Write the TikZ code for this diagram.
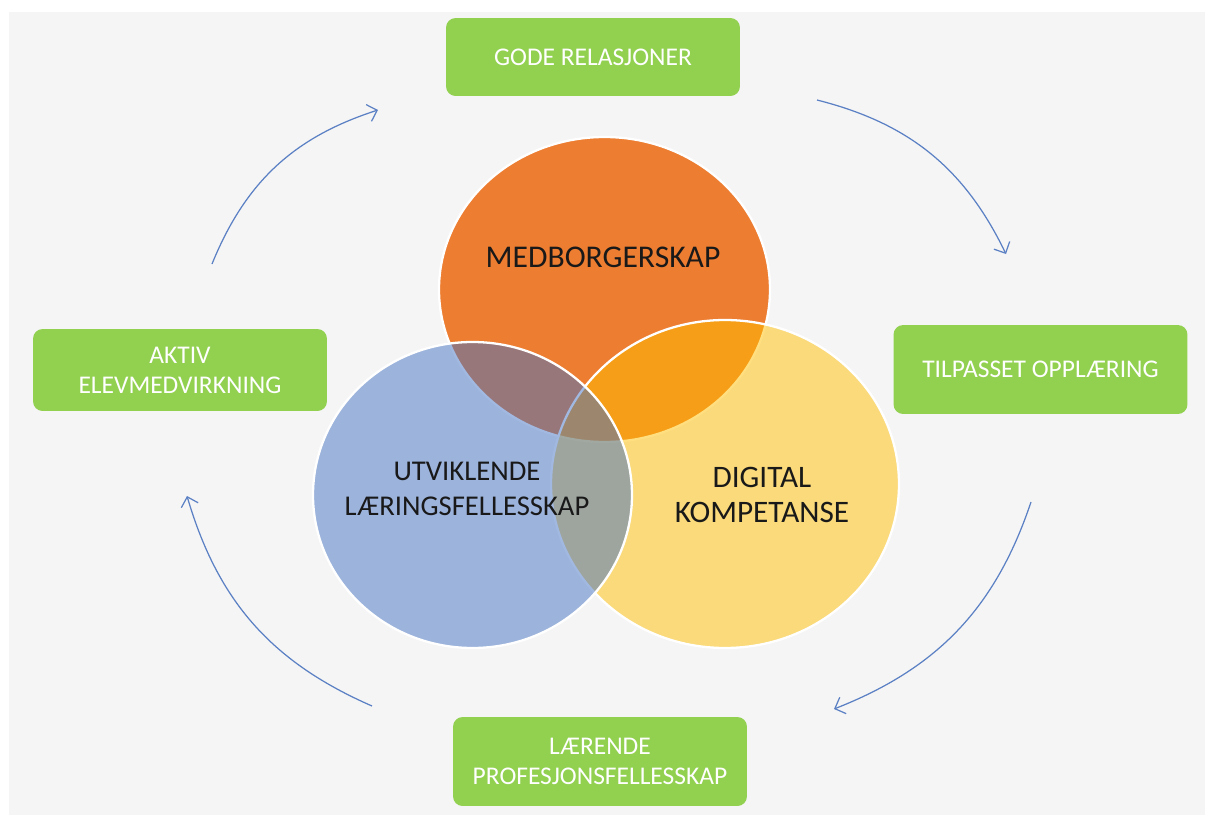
\documentclass[tikz,border=0pt]{standalone}
\usepackage{fontspec}
\setmainfont{Carlito}
\usetikzlibrary{arrows.meta}
\definecolor{sfondo}{HTML}{F5F5F5}
\definecolor{verde}{HTML}{92D050}
\definecolor{arancio}{HTML}{ED7D31}
\definecolor{giallo}{HTML}{FFC000}
\definecolor{blu}{HTML}{4472C4}
\definecolor{freccia}{HTML}{5B80C4}
\begin{document}
\begin{tikzpicture}[x=0.02cm,y=-0.02cm,
  box/.style={fill=verde,rounded corners=5.5pt,text=white,align=center,
    minimum width=5.88cm,font=\fontsize{14.5}{17}\selectfont},
  cerchio/.style={draw=white,line width=1.3pt},
  etichetta/.style={text=black!90,align=center,font=\fontsize{18}{20}\selectfont},
  freccia/.style={draw=freccia,line width=0.7pt,-{Straight Barb[length=5pt,width=10pt]}}]

\fill[white] (0,0) rectangle (1205,815);
\fill[sfondo] (9,12) rectangle (1205,815);

% cerchi
\begin{scope}
\draw[cerchio,fill=arancio] (604.5,289.5) ellipse [x radius=165.5,y radius=152.5];
\draw[cerchio,fill=giallo,fill opacity=.5] (725,484) ellipse [x radius=174,y radius=164];
\draw[cerchio,fill=blu,fill opacity=.5] (472.5,495) ellipse [x radius=159.5,y radius=153];
\end{scope}

\node[etichetta] (medb) at (603,257) {MEDBORGERSKAP};
\node[etichetta,font=\fontsize{16.3}{19.5}\selectfont] (utvi) at (467,489) {UTVIKLENDE\\LÆRINGSFELLESSKAP};
\node[etichetta,font=\fontsize{17.8}{19.5}\selectfont] (digi) at (762,495) {DIGITAL\\KOMPETANSE};

% riquadri
\node[box,minimum height=1.56cm] (rel) at (593,57) {GODE RELASJONER};
\node[box,minimum height=1.78cm] (tilp) at (1040.5,369.5) {TILPASSET OPPLÆRING};
\node[box,minimum height=1.78cm] (prof) at (600,761.5) {LÆRENDE\\PROFESJONSFELLESSKAP};
\node[box,minimum height=1.64cm] (akt) at (180,370) {AKTIV\\ELEVMEDVIRKNING};

% frecce
\coordinate (a1) at (212,264);
\coordinate (b1) at (378,110);
\coordinate (a2) at (817,100);
\coordinate (b2) at (1006,254);
\coordinate (a3) at (1031,502);
\coordinate (b3) at (834,709);
\coordinate (a4) at (372,706);
\coordinate (b4) at (187,496);

\draw[freccia] (a1) to[bend left=25] (b1);
\draw[freccia] (a2) to[bend left=25] (b2);
\draw[freccia] (a3) to[bend left=25] (b3);
\draw[freccia] (a4) to[bend left=25] (b4);

\end{tikzpicture}
\end{document}
